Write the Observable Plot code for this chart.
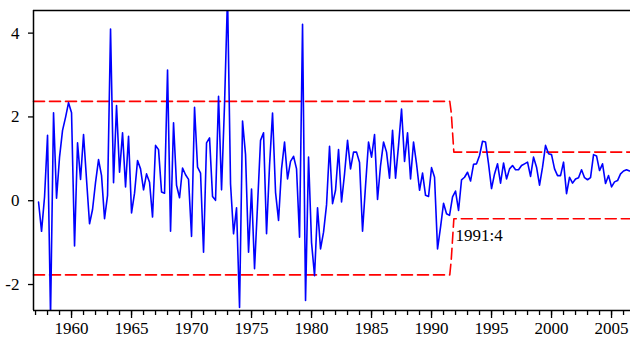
<!DOCTYPE html>
<html><head><meta charset="utf-8">
<script src="https://cdn.jsdelivr.net/npm/d3@7"></script>
<script src="https://cdn.jsdelivr.net/npm/@observablehq/plot@0.6"></script>
<style>html,body{margin:0;padding:0;background:#fff;overflow:hidden}
.lab text{font-family:"Liberation Serif","Times New Roman",serif !important;font-size:17px !important}</style>
</head><body><div id="chart"></div>
<script>
// Quarterly series starting 1957:2
const startDate = 1957.25;
const values = [
  -0.03, -0.73, 0.09, 1.56, -2.75, 2.10, 0.06, 1.04, 1.68, 1.99,
  2.34, 2.10, -1.08, 1.38, 0.51, 1.58, 0.50, -0.55, -0.21, 0.44,
  0.98, 0.60, -0.43, 0.13, 4.10, 0.43, 2.27, 0.68, 1.62, 0.33,
  1.54, -0.29, 0.18, 0.96, 0.76, 0.26, 0.64, 0.44, -0.39, 1.32,
  1.22, 0.21, 0.18, 3.12, -0.73, 1.86, 0.37, 0.07, 0.78, 0.62,
  0.51, -0.85, 2.23, 0.80, 0.66, -1.23, 1.38, 1.50, 0.10, 0.01,
  2.49, 0.26, 2.30, 4.90, 0.40, -0.79, -0.17, -2.55, 1.90, 1.10,
  -1.23, 0.28, -1.62, -0.10, 1.44, 1.62, -0.79, 0.84, 2.09, 0.20,
  -0.47, 0.76, 1.40, 0.52, 0.94, 1.06, 0.76, -0.87, 4.21, -2.38,
  1.04, -1.00, -1.79, -0.17, -1.15, -0.75, -0.10, 1.30, -0.07, 0.25,
  1.22, -0.03, 0.64, 1.44, 0.76, 1.16, 1.16, 0.91, -0.73, 0.36,
  1.40, 1.04, 1.58, 0.03, 0.84, 1.40, 1.16, 0.54, 1.68, 0.54,
  1.32, 2.19, 0.94, 1.62, 0.52, 1.40, 0.88, 0.25, 0.66, 0.13,
  0.10, 0.79, 0.56, -1.15, -0.63, -0.06, -0.31, -0.35, 0.09, 0.23,
  -0.23, 0.50, 0.56, 0.68, 0.47, 0.87, 0.88, 1.08, 1.42, 1.40,
  0.88, 0.29, 0.64, 0.88, 0.42, 0.90, 0.52, 0.76, 0.84, 0.74,
  0.74, 0.84, 0.88, 0.92, 0.58, 1.04, 0.80, 0.37, 0.80, 1.32,
  1.12, 1.10, 0.76, 0.60, 0.60, 0.92, 0.17, 0.56, 0.42, 0.52,
  0.55, 0.74, 0.55, 0.50, 0.55, 1.10, 1.07, 0.72, 0.88, 0.41,
  0.60, 0.33, 0.45, 0.48, 0.64, 0.71, 0.74, 0.71
];

// Break bands (shift at 1991:4)
const bandDates = [1956.83, 1991.52, 1991.64, 1991.86, 2006.6];
const upperBand = [2.37, 2.37, 2.11, 1.16, 1.16];
const lowerBand = [-1.77, -1.77, -1.42, -0.43, -0.43];

const majorTicks = [1960, 1965, 1970, 1975, 1980, 1985, 1990, 1995, 2000, 2005];
const minorTicks = d3.range(1957, 2007);
const yTicks = [-2, 0, 2, 4];
const annotations = [{date: 1991.99, value: -0.83, text: "1991:4"}];

const xDomain = [1956.83, 2006.58];
const yDomain = [-2.62, 4.54];

const series = values.map((v, i) => ({date: startDate + i / 4, value: v}));
const band = bandDates.map((d, i) => ({date: d, upper: upperBand[i], lower: lowerBand[i]}));

const chart = Plot.plot({
  width: 630, height: 342,
  marginTop: 10, marginBottom: 32, marginLeft: 33, marginRight: 0,
  style: "background: #fff; color: #000;",
  x: {domain: xDomain},
  y: {domain: yDomain},
  marks: [
    Plot.lineY(band, {x: "date", y: "upper", stroke: "#ff0000", strokeWidth: 1.6, strokeDasharray: "11,5"}),
    Plot.lineY(band, {x: "date", y: "lower", stroke: "#ff0000", strokeWidth: 1.6, strokeDasharray: "11,5"}),
    Plot.lineY(series, {x: "date", y: "value", stroke: "#0000ff", strokeWidth: 1.6, clip: true}),
    Plot.text(annotations, {x: "date", y: "value", text: "text", textAnchor: "start", fill: "#000", className: "lab"}),
    Plot.axisX({ticks: minorTicks, tickSize: 5, tickFormat: () => "", strokeWidth: 1.3, label: null}),
    Plot.axisX({ticks: majorTicks, tickSize: 8, tickPadding: 3, tickFormat: d => String(d), strokeWidth: 1.3, label: null, className: "lab"}),
    Plot.axisY({ticks: yTicks, tickSize: 5, tickPadding: 9, tickFormat: d => String(d), strokeWidth: 1.3, label: null, className: "lab"}),
    Plot.ruleY([yDomain[1]], {stroke: "#000", strokeWidth: 1.5}),
    Plot.ruleY([yDomain[0]], {stroke: "#000", strokeWidth: 1.5}),
    Plot.ruleX([xDomain[0]], {stroke: "#000", strokeWidth: 1.5})
  ]
});
document.getElementById("chart").appendChild(chart);
</script>
</body></html>
